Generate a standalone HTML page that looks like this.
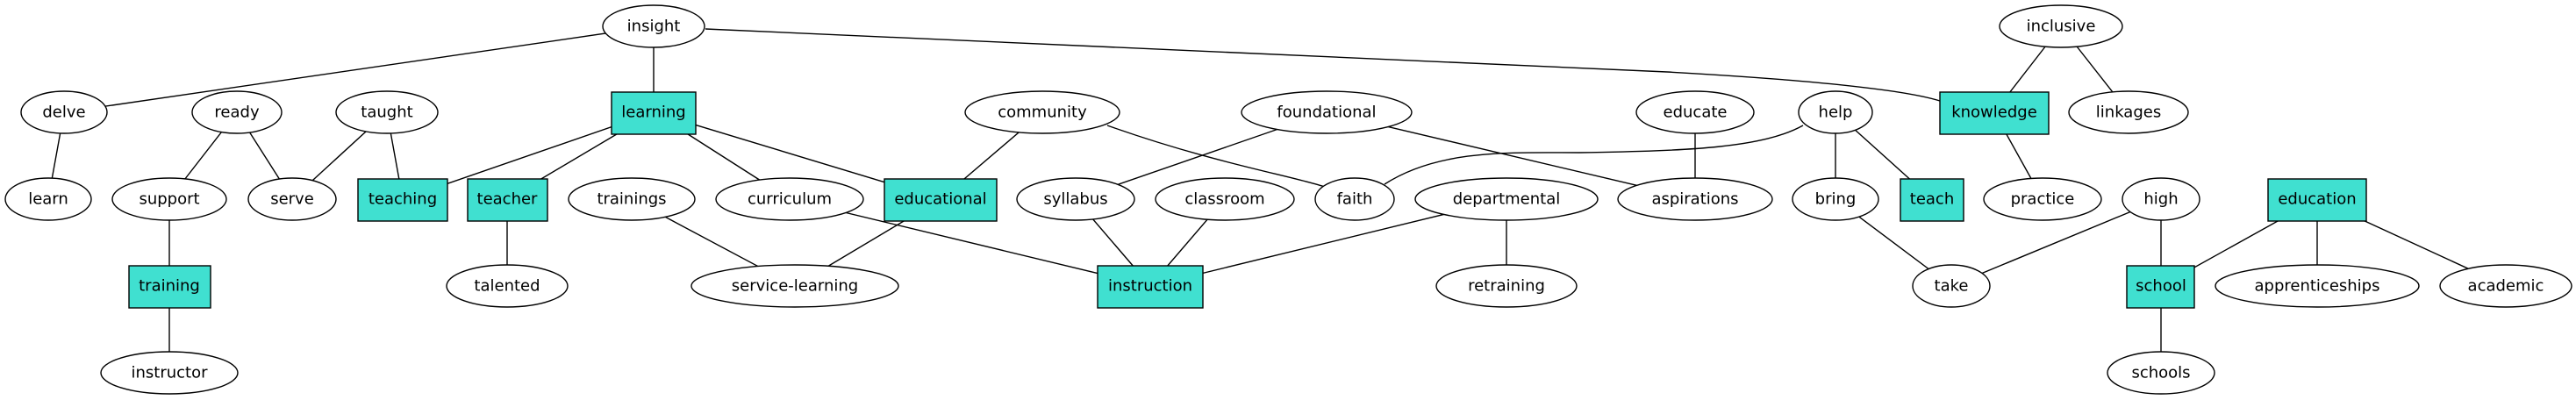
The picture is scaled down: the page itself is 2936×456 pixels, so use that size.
<!DOCTYPE html>
<html><head><meta charset="utf-8"><style>
html,body{margin:0;padding:0;background:#fff;}
svg{display:block}
text{font-family:"DejaVu Sans","Liberation Sans",sans-serif;font-size:18px;text-anchor:middle;dominant-baseline:central;fill:#000}
</style></head><body>
<svg width="2936" height="456" viewBox="0 0 2936 456" xmlns="http://www.w3.org/2000/svg">
<g stroke="#000" stroke-width="1.4" fill="none">
<line x1="745" y1="30" x2="73" y2="128"/>
<line x1="745" y1="30" x2="745" y2="128"/>
<path d="M804,33 L1900,82 Q2150,96 2211,115"/>
<line x1="73" y1="128" x2="55" y2="227"/>
<line x1="270" y1="128" x2="193" y2="227"/>
<line x1="270" y1="128" x2="333" y2="227"/>
<line x1="441" y1="128" x2="333" y2="227"/>
<line x1="441" y1="128" x2="459" y2="227"/>
<line x1="745" y1="128" x2="459" y2="227"/>
<line x1="745" y1="128" x2="578" y2="227"/>
<line x1="745" y1="128" x2="900" y2="227"/>
<line x1="745" y1="128" x2="1072" y2="227"/>
<line x1="193" y1="227" x2="193" y2="326"/>
<line x1="193" y1="326" x2="193" y2="425"/>
<line x1="578" y1="227" x2="578" y2="326"/>
<line x1="720" y1="227" x2="906" y2="326"/>
<line x1="900" y1="227" x2="1311" y2="326"/>
<line x1="1072" y1="227" x2="906" y2="326"/>
<line x1="1188" y1="128" x2="1072" y2="227"/>
<path d="M1262,143 C1380,185 1470,200 1510,213"/>
<line x1="1512" y1="128" x2="1226" y2="227"/>
<line x1="1512" y1="128" x2="1932" y2="227"/>
<line x1="1932" y1="128" x2="1932" y2="227"/>
<path d="M1578,210 C1640,170 1720,174 1800,174 C1930,172 2010,168 2055,143"/>
<line x1="2092" y1="128" x2="2092" y2="227"/>
<line x1="2092" y1="128" x2="2202" y2="227"/>
<line x1="1226" y1="227" x2="1311" y2="326"/>
<line x1="1396" y1="227" x2="1311" y2="326"/>
<line x1="1717" y1="227" x2="1311" y2="326"/>
<line x1="1717" y1="227" x2="1717" y2="326"/>
<line x1="2349" y1="30" x2="2273" y2="128"/>
<line x1="2349" y1="30" x2="2426" y2="128"/>
<line x1="2273" y1="128" x2="2328" y2="227"/>
<line x1="2092" y1="227" x2="2224" y2="326"/>
<line x1="2463" y1="227" x2="2224" y2="326"/>
<line x1="2463" y1="227" x2="2463" y2="326"/>
<line x1="2641" y1="227" x2="2463" y2="326"/>
<line x1="2641" y1="227" x2="2641" y2="326"/>
<line x1="2641" y1="227" x2="2856" y2="326"/>
<line x1="2463" y1="326" x2="2463" y2="425"/>
</g>
<g stroke="#000" stroke-width="1.4" fill="#fff">
<ellipse cx="745" cy="30" rx="58" ry="24"/>
<ellipse cx="73" cy="128" rx="49" ry="24"/>
<ellipse cx="270" cy="128" rx="51" ry="24"/>
<ellipse cx="441" cy="128" rx="58" ry="24"/>
<ellipse cx="55" cy="227" rx="49" ry="24"/>
<ellipse cx="193" cy="227" rx="65" ry="24"/>
<ellipse cx="333" cy="227" rx="50" ry="24"/>
<ellipse cx="720" cy="227" rx="72" ry="24"/>
<ellipse cx="900" cy="227" rx="84" ry="24"/>
<ellipse cx="578" cy="326" rx="69" ry="24"/>
<ellipse cx="906" cy="326" rx="118" ry="24"/>
<ellipse cx="193" cy="425" rx="78" ry="24"/>
<ellipse cx="1188" cy="128" rx="88" ry="24"/>
<ellipse cx="1512" cy="128" rx="97" ry="24"/>
<ellipse cx="1932" cy="128" rx="67" ry="24"/>
<ellipse cx="1226" cy="227" rx="67" ry="24"/>
<ellipse cx="1396" cy="227" rx="79" ry="24"/>
<ellipse cx="1544" cy="227" rx="45" ry="24"/>
<ellipse cx="1717" cy="227" rx="104" ry="24"/>
<ellipse cx="1932" cy="227" rx="88" ry="24"/>
<ellipse cx="1717" cy="326" rx="80" ry="24"/>
<ellipse cx="2349" cy="30" rx="70" ry="24"/>
<ellipse cx="2092" cy="128" rx="42" ry="24"/>
<ellipse cx="2426" cy="128" rx="68" ry="24"/>
<ellipse cx="2092" cy="227" rx="49" ry="24"/>
<ellipse cx="2328" cy="227" rx="67" ry="24"/>
<ellipse cx="2463" cy="227" rx="44" ry="24"/>
<ellipse cx="2224" cy="326" rx="44" ry="24"/>
<ellipse cx="2641" cy="326" rx="116" ry="24"/>
<ellipse cx="2856" cy="326" rx="75" ry="24"/>
<ellipse cx="2463" cy="425" rx="61" ry="24"/>
</g>
<g stroke="#000" stroke-width="1.4" fill="#40e0d0">
<rect x="697" y="105" width="96" height="48"/>
<rect x="408" y="204" width="102" height="48"/>
<rect x="533" y="204" width="91" height="48"/>
<rect x="147" y="303" width="93" height="48"/>
<rect x="1008" y="204" width="128" height="48"/>
<rect x="1251" y="303" width="120" height="48"/>
<rect x="2211" y="105" width="124" height="48"/>
<rect x="2166" y="204" width="72" height="48"/>
<rect x="2585" y="204" width="112" height="48"/>
<rect x="2424" y="303" width="77" height="48"/>
</g>
<g>
<text x="745" y="30">insight</text>
<text x="73" y="128">delve</text>
<text x="270" y="128">ready</text>
<text x="441" y="128">taught</text>
<text x="745" y="128">learning</text>
<text x="55" y="227">learn</text>
<text x="193" y="227">support</text>
<text x="333" y="227">serve</text>
<text x="459" y="227">teaching</text>
<text x="578" y="227">teacher</text>
<text x="720" y="227">trainings</text>
<text x="900" y="227">curriculum</text>
<text x="193" y="326">training</text>
<text x="578" y="326">talented</text>
<text x="906" y="326">service-learning</text>
<text x="193" y="425">instructor</text>
<text x="1188" y="128">community</text>
<text x="1512" y="128">foundational</text>
<text x="1932" y="128">educate</text>
<text x="1072" y="227">educational</text>
<text x="1226" y="227">syllabus</text>
<text x="1396" y="227">classroom</text>
<text x="1544" y="227">faith</text>
<text x="1717" y="227">departmental</text>
<text x="1932" y="227">aspirations</text>
<text x="1311" y="326">instruction</text>
<text x="1717" y="326">retraining</text>
<text x="2349" y="30">inclusive</text>
<text x="2092" y="128">help</text>
<text x="2273" y="128">knowledge</text>
<text x="2426" y="128">linkages</text>
<text x="2092" y="227">bring</text>
<text x="2202" y="227">teach</text>
<text x="2328" y="227">practice</text>
<text x="2463" y="227">high</text>
<text x="2641" y="227">education</text>
<text x="2224" y="326">take</text>
<text x="2463" y="326">school</text>
<text x="2641" y="326">apprenticeships</text>
<text x="2856" y="326">academic</text>
<text x="2463" y="425">schools</text>
</g>
</svg>
</body></html>
